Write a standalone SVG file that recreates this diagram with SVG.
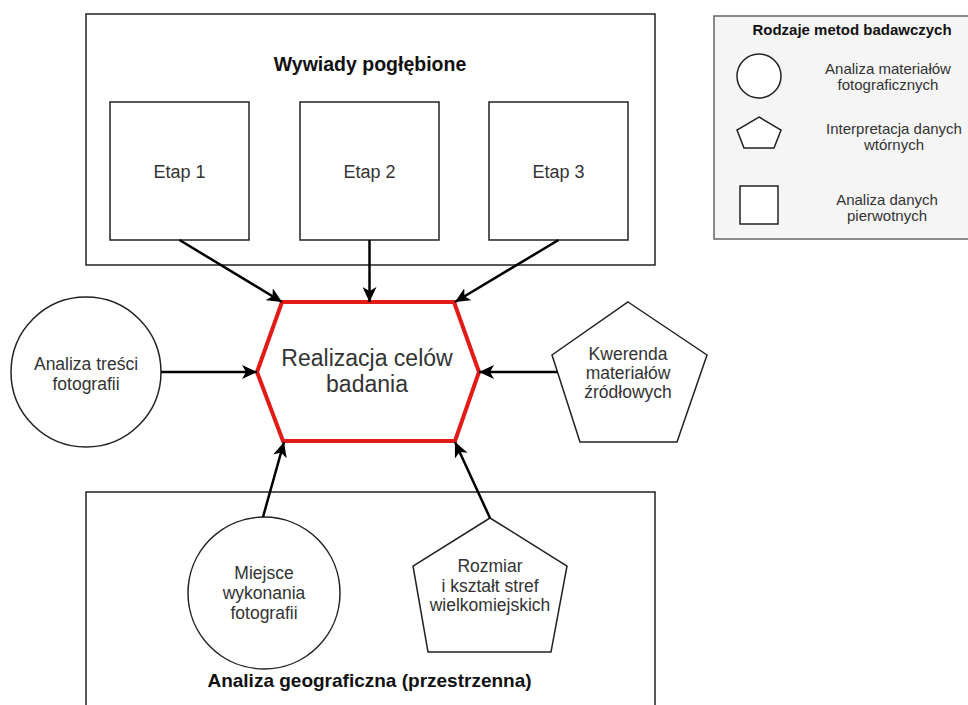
<svg xmlns="http://www.w3.org/2000/svg" width="968" height="705" viewBox="0 0 968 705">
<defs>
<marker id="arr" markerUnits="userSpaceOnUse" markerWidth="16" markerHeight="14" viewBox="0 0 16 14" refX="15" refY="7" orient="auto">
<path d="M0,0 L15,7 L0,14 L4,7 Z" fill="#000"/>
</marker>
<style>
.box{fill:#fff;stroke:#222;stroke-width:1.5}
.txt{font-family:"Liberation Sans",Arial,Helvetica,sans-serif;fill:#333;text-anchor:middle}
.n{font-size:17.5px}
.b{font-weight:bold;fill:#111;font-size:19px}
.lg{font-size:15px}
.con{stroke:#000;stroke-width:2.5;fill:none;marker-end:url(#arr)}
</style>
</defs>
<rect width="968" height="705" fill="#fff"/>

<g id="wywiady">
<rect class="box" x="86" y="14" width="569" height="251"/>
<text class="txt b" x="370" y="71" style="font-size:19.5px">Wywiady pogłębione</text>
</g>
<g id="etap1">
<rect class="box" x="110" y="102" width="139" height="138"/>
<text class="txt n" x="179.5" y="178" style="font-size:18px">Etap 1</text>
</g>
<g id="etap2">
<rect class="box" x="300" y="102" width="139" height="138"/>
<text class="txt n" x="369.5" y="178" style="font-size:18px">Etap 2</text>
</g>
<g id="etap3">
<rect class="box" x="489" y="102" width="139" height="138"/>
<text class="txt n" x="558.5" y="178" style="font-size:18px">Etap 3</text>
</g>

<g id="geo">
<rect class="box" x="86" y="492" width="569" height="230"/>
<text class="txt b" x="369.5" y="687">Analiza geograficzna (przestrzenna)</text>
</g>
<g id="miejsce">
<circle class="box" cx="264" cy="593" r="76"/>
<text class="txt n" x="264" y="579">Miejsce</text>
<text class="txt n" x="264" y="599">wykonania</text>
<text class="txt n" x="264" y="619">fotografii</text>
</g>
<g id="rozmiar">
<polygon class="box" points="490,518 567,566 551,652 428,652 413,566"/>
<text class="txt n" x="490" y="572">Rozmiar</text>
<text class="txt n" x="490" y="592">i kształt stref</text>
<text class="txt n" x="490" y="611">wielkomiejskich</text>
</g>

<g id="tresc">
<circle class="box" cx="86" cy="372" r="75"/>
<text class="txt n" x="86" y="370">Analiza treści</text>
<text class="txt n" x="86" y="390">fotografii</text>
</g>
<g id="kwerenda">
<polygon class="box" points="628,302 707,355 677,442 580,442 552,355"/>
<text class="txt n" x="628" y="360">Kwerenda</text>
<text class="txt n" x="628" y="379">materiałów</text>
<text class="txt n" x="628" y="398">źródłowych</text>
</g>

<g id="cel">
<polygon points="282,302 454,302 479,372 455,441 283,441 257,372" fill="#fff" stroke="#e31b17" stroke-width="4" stroke-linejoin="miter"/>
<text class="txt" x="367" y="366" style="font-size:23px">Realizacja celów</text>
<text class="txt" x="367" y="392" style="font-size:23px">badania</text>
</g>

<g id="connectors">
<line class="con" x1="179.5" y1="240" x2="282" y2="302"/>
<line class="con" x1="369.5" y1="240" x2="369.5" y2="302"/>
<line class="con" x1="558.5" y1="240" x2="455" y2="302"/>
<line class="con" x1="161" y1="372" x2="257" y2="372"/>
<line class="con" x1="557.5" y1="372" x2="479" y2="372"/>
<line class="con" x1="263" y1="517" x2="284" y2="442"/>
<line class="con" x1="490" y1="518" x2="455" y2="442"/>
</g>

<g id="legend">
<rect x="714" y="16" width="260" height="223" fill="#f5f5f5" stroke="#666" stroke-width="1.5"/>
<text class="txt" x="852" y="35" style="font-size:15px;font-weight:bold;fill:#111">Rodzaje metod badawczych</text>
<circle class="box" cx="759" cy="76" r="22"/>
<text class="txt lg" x="888" y="74">Analiza materiałów</text>
<text class="txt lg" x="888" y="90">fotograficznych</text>
<polygon class="box" points="759,117 781,130 774,148 744,148 737,130"/>
<text class="txt lg" x="894" y="134">Interpretacja danych</text>
<text class="txt lg" x="894" y="150">wtórnych</text>
<rect class="box" x="740" y="186" width="38" height="38"/>
<text class="txt lg" x="887" y="205">Analiza danych</text>
<text class="txt lg" x="887" y="221">pierwotnych</text>
</g>
</svg>
